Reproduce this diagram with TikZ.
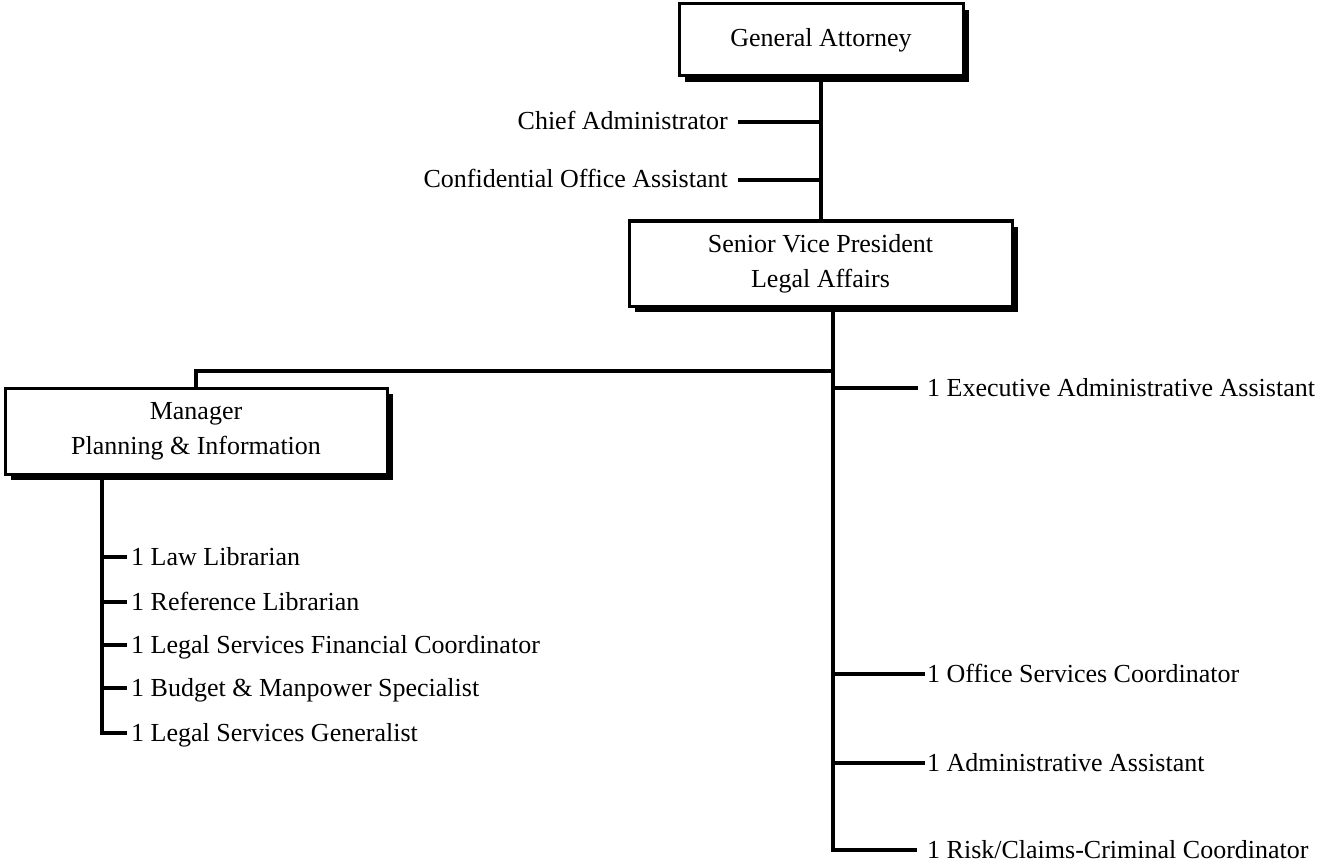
\documentclass[tikz,border=0pt]{standalone}
\usepackage{fontspec}
\setmainfont{Liberation Serif}
\usetikzlibrary{shadows}

\begin{document}
\begin{tikzpicture}[x=1pt,y=-1pt,
  txt/.style={inner sep=0pt,font=\fontsize{26}{33}\selectfont},
  box/.style={draw,line width=3pt,fill=white,align=center,inner sep=0pt,
    font=\fontsize{26}{35}\selectfont,
    drop shadow={shadow xshift=6pt,shadow yshift=-6pt,fill=black,opacity=1}},
  link/.style={line width=3.5pt}]
\useasboundingbox (0,0) rectangle (1322,861);

\node[box,minimum width=284pt,minimum height=72pt] (ga) at (821,40) {General Attorney};
\node[box,minimum width=383pt,minimum height=85pt] (svp) at (820.5,263.5) {Senior Vice President\\Legal Affairs};
\node[box,minimum width=382pt,minimum height=86pt] (mgr) at (196,431) {Manager\\Planning \& Information};

% text baselines sit 8pt below the lines
\node[txt,anchor=base east] (chief) at (728,130) {Chief Administrator};
\node[txt,anchor=base east] (conf) at (728,188) {Confidential Office Assistant};

\draw[link] (ga.south) -- (ga.south |- svp.north);
\draw[link] ([xshift=10pt,yshift=8pt]chief.base east) -- ([yshift=8pt]chief.base east -| ga.south);
\draw[link] ([xshift=10pt,yshift=8pt]conf.base east) -- ([yshift=8pt]conf.base east -| ga.south);

% right side
\coordinate (trunk) at ([xshift=12.5pt]svp.south);
\node[txt,anchor=base west] (exec) at (927,396) {1 Executive Administrative Assistant};
\node[txt,anchor=base west] (office) at (927,682) {1 Office Services Coordinator};
\node[txt,anchor=base west] (admin) at (927,771) {1 Administrative Assistant};
\node[txt,anchor=base west] (risk) at (927,858) {1 Risk/Claims-Criminal Coordinator};

\draw[link] (trunk) |- ([xshift=-10pt,yshift=8pt]risk.base west);
\draw[link] ([yshift=8pt]exec.base west -| trunk) -- ([xshift=-9pt,yshift=8pt]exec.base west);
\draw[link] ([yshift=8pt]office.base west -| trunk) -- ([xshift=-2pt,yshift=8pt]office.base west);
\draw[link] ([yshift=8pt]admin.base west -| trunk) -- ([xshift=-2pt,yshift=8pt]admin.base west);
\coordinate (split) at (trunk |- 0,371);
\draw[link] (split) -| (mgr.north);

% left side
\coordinate (mtrunk) at ([xshift=-94pt]mgr.south);
\node[txt,anchor=base west] (law) at (131,565) {1 Law Librarian};
\node[txt,anchor=base west] (ref) at (131,610) {1 Reference Librarian};
\node[txt,anchor=base west] (fin) at (131,653) {1 Legal Services Financial Coordinator};
\node[txt,anchor=base west] (budget) at (131,696) {1 Budget \& Manpower Specialist};
\node[txt,anchor=base west] (gen) at (131,741) {1 Legal Services Generalist};

\draw[link] (mtrunk) |- ([xshift=-4pt,yshift=8pt]gen.base west);
\draw[link] ([yshift=8pt]law.base west -| mtrunk) -- ([xshift=-4pt,yshift=8pt]law.base west);
\draw[link] ([yshift=8pt]ref.base west -| mtrunk) -- ([xshift=-4pt,yshift=8pt]ref.base west);
\draw[link] ([yshift=8pt]fin.base west -| mtrunk) -- ([xshift=-4pt,yshift=8pt]fin.base west);
\draw[link] ([yshift=8pt]budget.base west -| mtrunk) -- ([xshift=-4pt,yshift=8pt]budget.base west);

\end{tikzpicture}
\end{document}
